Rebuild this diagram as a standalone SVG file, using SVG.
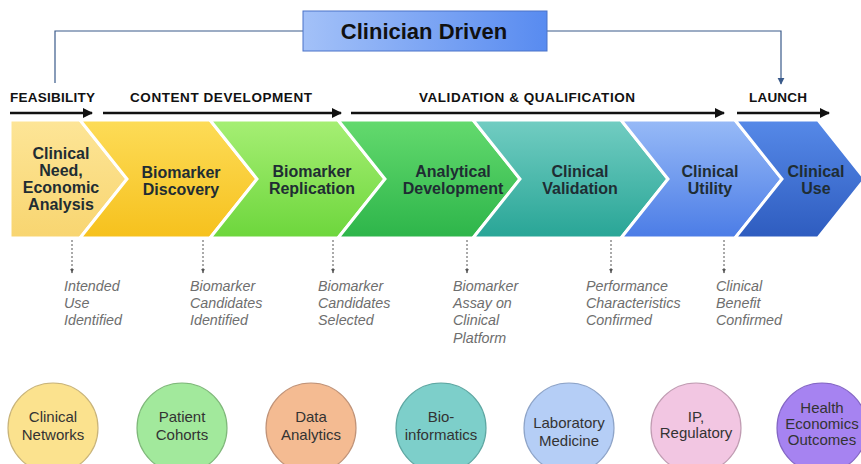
<svg xmlns="http://www.w3.org/2000/svg" width="861" height="464" viewBox="0 0 861 464">
<defs>
<linearGradient id="gBox" x1="0" y1="0" x2="1" y2="0"><stop offset="0" stop-color="#a3c1f8"/><stop offset="1" stop-color="#588bf0"/></linearGradient>
<linearGradient id="g1" x1="0" y1="0" x2="0" y2="1"><stop offset="0" stop-color="#fde597"/><stop offset="1" stop-color="#f8d570"/></linearGradient>
<linearGradient id="g2" x1="0" y1="0" x2="0" y2="1"><stop offset="0" stop-color="#fddc58"/><stop offset="1" stop-color="#f6c11d"/></linearGradient>
<linearGradient id="g3" x1="0" y1="0" x2="0" y2="1"><stop offset="0" stop-color="#a6ef74"/><stop offset="1" stop-color="#6dd63c"/></linearGradient>
<linearGradient id="g4" x1="0" y1="0" x2="0" y2="1"><stop offset="0" stop-color="#64da6e"/><stop offset="1" stop-color="#2db54a"/></linearGradient>
<linearGradient id="g5" x1="0" y1="0" x2="0" y2="1"><stop offset="0" stop-color="#72cdc2"/><stop offset="1" stop-color="#28a596"/></linearGradient>
<linearGradient id="g6" x1="0" y1="0" x2="0" y2="1"><stop offset="0" stop-color="#97baf7"/><stop offset="1" stop-color="#4b7ce6"/></linearGradient>
<linearGradient id="g7" x1="0" y1="0" x2="0" y2="1"><stop offset="0" stop-color="#5689e8"/><stop offset="1" stop-color="#2e5cbf"/></linearGradient>
<marker id="ah" viewBox="0 0 10 10" refX="9" refY="5" markerWidth="4" markerHeight="4" orient="auto"><path d="M0,0 L10,5 L0,10 z" fill="#111"/></marker>
<marker id="ab" viewBox="0 0 10 10" refX="9" refY="5" markerWidth="6" markerHeight="6" orient="auto"><path d="M0,0 L10,5 L0,10 z" fill="#3a5a8a"/></marker>
<marker id="ad" viewBox="0 0 10 10" refX="9" refY="5" markerWidth="5" markerHeight="5" orient="auto"><path d="M0,1 L10,5 L0,9 z" fill="#555"/></marker>
<style>
.ph{font-family:"Liberation Sans",Arial,sans-serif;font-weight:bold;font-size:13.5px;fill:#111}
.pa{stroke:#111;stroke-width:2.5;fill:none}
.ch{stroke:#fff;stroke-width:3;stroke-linejoin:miter}
.ct{font-family:"Liberation Sans",Arial,sans-serif;font-weight:bold;font-size:16px;fill:#1f2d33;text-anchor:middle}
.dl{stroke:#555;stroke-width:1;stroke-dasharray:2 2;fill:none}
.it{font-family:"Liberation Sans",Arial,sans-serif;font-style:italic;font-size:14.3px;fill:#6e6e6e}
.cc{stroke-width:1.2}
.cl{font-family:"Liberation Sans",Arial,sans-serif;font-size:15px;fill:#333;text-anchor:middle}
</style>
</defs>

<g id="connectors">
<polyline points="303,31 55,31 55,83" fill="none" stroke="#3a5a8a" stroke-width="1.2"/>
<polyline points="547,31 781,31 781,84" fill="none" stroke="#3a5a8a" stroke-width="1.2" marker-end="url(#ab)"/>
<line class="pa" x1="10" y1="113" x2="92" y2="113" marker-end="url(#ah)"/>
<line class="pa" x1="103" y1="113" x2="341" y2="113" marker-end="url(#ah)"/>
<line class="pa" x1="351" y1="113" x2="724" y2="113" marker-end="url(#ah)"/>
<line class="pa" x1="737" y1="113" x2="829" y2="113" marker-end="url(#ah)"/>
<line class="dl" x1="72" y1="240" x2="72" y2="273" marker-end="url(#ad)"/>
<line class="dl" x1="203" y1="240" x2="203" y2="273" marker-end="url(#ad)"/>
<line class="dl" x1="333" y1="240" x2="333" y2="273" marker-end="url(#ad)"/>
<line class="dl" x1="467" y1="240" x2="467" y2="273" marker-end="url(#ad)"/>
<line class="dl" x1="611" y1="240" x2="611" y2="273" marker-end="url(#ad)"/>
<line class="dl" x1="724" y1="240" x2="724" y2="273" marker-end="url(#ad)"/>
</g>

<g id="clinician-driven">
<rect x="303" y="11" width="244" height="40" fill="url(#gBox)" stroke="#4a72c8" stroke-width="1"/>
<text x="424" y="39" font-family="'Liberation Sans',Arial,sans-serif" font-weight="bold" font-size="22" fill="#111" text-anchor="middle">Clinician  Driven</text>
</g>

<g id="phase-labels">
<text class="ph" x="10" y="102" textLength="85">FEASIBILITY</text>
<text class="ph" x="130" y="102" textLength="182">CONTENT  DEVELOPMENT</text>
<text class="ph" x="419" y="102" textLength="216">VALIDATION  &amp; QUALIFICATION</text>
<text class="ph" x="749" y="102" textLength="58">LAUNCH</text>
</g>

<g id="step1"><polygon class="ch" fill="url(#g1)" points="10,120 80,120 127,179 80,238 10,238"/>
<text class="ct" x="61" y="159">Clinical</text><text class="ct" x="61" y="176">Need,</text><text class="ct" x="61" y="193">Economic</text><text class="ct" x="61" y="210">Analysis</text></g>
<g id="step2"><polygon class="ch" fill="url(#g2)" points="80,120 210,120 257,179 210,238 80,238 127,179"/>
<text class="ct" x="181" y="178">Biomarker</text><text class="ct" x="181" y="195">Discovery</text></g>
<g id="step3"><polygon class="ch" fill="url(#g3)" points="210,120 338,120 385,179 338,238 210,238 257,179"/>
<text class="ct" x="312" y="177">Biomarker</text><text class="ct" x="312" y="194">Replication</text></g>
<g id="step4"><polygon class="ch" fill="url(#g4)" points="338,120 473,120 520,179 473,238 338,238 385,179"/>
<text class="ct" x="453" y="177">Analytical</text><text class="ct" x="453" y="194">Development</text></g>
<g id="step5"><polygon class="ch" fill="url(#g5)" points="473,120 621,120 668,179 621,238 473,238 520,179"/>
<text class="ct" x="580" y="177">Clinical</text><text class="ct" x="580" y="194">Validation</text></g>
<g id="step6"><polygon class="ch" fill="url(#g6)" points="621,120 735,120 782,179 735,238 621,238 668,179"/>
<text class="ct" x="710" y="177">Clinical</text><text class="ct" x="710" y="194">Utility</text></g>
<g id="step7"><polygon class="ch" fill="url(#g7)" points="735,120 818,120 865,179 818,238 735,238 782,179"/>
<text class="ct" x="816" y="177">Clinical</text><text class="ct" x="816" y="194">Use</text></g>

<g id="milestone1"><text class="it" x="64" y="291">Intended</text><text class="it" x="64" y="308">Use</text><text class="it" x="64" y="325">Identified</text></g>
<g id="milestone2"><text class="it" x="190" y="291">Biomarker</text><text class="it" x="190" y="308">Candidates</text><text class="it" x="190" y="325">Identified</text></g>
<g id="milestone3"><text class="it" x="318" y="291">Biomarker</text><text class="it" x="318" y="308">Candidates</text><text class="it" x="318" y="325">Selected</text></g>
<g id="milestone4"><text class="it" x="453" y="291">Biomarker</text><text class="it" x="453" y="308">Assay on</text><text class="it" x="453" y="325">Clinical</text><text class="it" x="453" y="343">Platform</text></g>
<g id="milestone5"><text class="it" x="586" y="291">Performance</text><text class="it" x="586" y="308">Characteristics</text><text class="it" x="586" y="325">Confirmed</text></g>
<g id="milestone6"><text class="it" x="716" y="291">Clinical</text><text class="it" x="716" y="308">Benefit</text><text class="it" x="716" y="325">Confirmed</text></g>

<g id="res1"><circle class="cc" cx="53" cy="428" r="45" fill="#fbe28e" stroke="#c9b47a"/><text class="cl" x="53" y="422">Clinical</text><text class="cl" x="53" y="440">Networks</text></g>
<g id="res2"><circle class="cc" cx="182" cy="428" r="45" fill="#a2e99c" stroke="#7fb87a"/><text class="cl" x="182" y="422">Patient</text><text class="cl" x="182" y="440">Cohorts</text></g>
<g id="res3"><circle class="cc" cx="311" cy="428" r="45" fill="#f4bb92" stroke="#c09378"/><text class="cl" x="311" y="422">Data</text><text class="cl" x="311" y="440">Analytics</text></g>
<g id="res4"><circle class="cc" cx="441" cy="428" r="45" fill="#7dcfca" stroke="#5ea7a2"/><text class="cl" x="441" y="422">Bio-</text><text class="cl" x="441" y="440">informatics</text></g>
<g id="res5"><circle class="cc" cx="569" cy="428" r="45" fill="#b5cef6" stroke="#8ea4c8"/><text class="cl" x="569" y="428">Laboratory</text><text class="cl" x="569" y="446">Medicine</text></g>
<g id="res6"><circle class="cc" cx="696" cy="428" r="45" fill="#f2c6e2" stroke="#c09cb2"/><text class="cl" x="696" y="422">IP,</text><text class="cl" x="696" y="438">Regulatory</text></g>
<g id="res7"><circle class="cc" cx="822" cy="428" r="45" fill="#a683f1" stroke="#8466c4"/><text class="cl" x="822" y="413">Health</text><text class="cl" x="822" y="429">Economics</text><text class="cl" x="822" y="445">Outcomes</text></g>
</svg>
